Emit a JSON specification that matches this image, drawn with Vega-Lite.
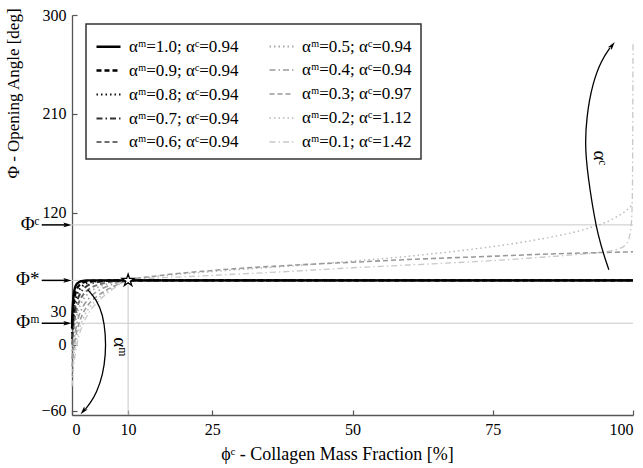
{
  "$schema": "https://vega.github.io/schema/vega-lite/v6.json",
  "width": 561,
  "height": 400,
  "autosize": {"type": "none"},
  "padding": {"left": 72, "top": 15, "right": 10, "bottom": 53},
  "background": "white",
  "datasets": {
    "curves": [
      {"s": "αᵐ=0.1; αᶜ=1.42", "x": 0, "y": -38}, {"s": "αᵐ=0.1; αᶜ=1.42", "x": 0.3, "y": -20}, {"s": "αᵐ=0.1; αᶜ=1.42", "x": 0.6, "y": -8}, {"s": "αᵐ=0.1; αᶜ=1.42", "x": 1, "y": 3}, {"s": "αᵐ=0.1; αᶜ=1.42", "x": 2, "y": 19}, {"s": "αᵐ=0.1; αᶜ=1.42", "x": 3, "y": 29}, {"s": "αᵐ=0.1; αᶜ=1.42", "x": 5, "y": 41}, {"s": "αᵐ=0.1; αᶜ=1.42", "x": 7, "y": 49.5}, {"s": "αᵐ=0.1; αᶜ=1.42", "x": 10, "y": 58.5}, {"s": "αᵐ=0.1; αᶜ=1.42", "x": 25, "y": 63}, {"s": "αᵐ=0.1; αᶜ=1.42", "x": 40, "y": 67}, {"s": "αᵐ=0.1; αᶜ=1.42", "x": 50, "y": 70}, {"s": "αᵐ=0.1; αᶜ=1.42", "x": 60, "y": 72.5}, {"s": "αᵐ=0.1; αᶜ=1.42", "x": 75, "y": 76.5}, {"s": "αᵐ=0.1; αᶜ=1.42", "x": 85, "y": 80}, {"s": "αᵐ=0.1; αᶜ=1.42", "x": 90, "y": 82}, {"s": "αᵐ=0.1; αᶜ=1.42", "x": 95, "y": 84.5}, {"s": "αᵐ=0.1; αᶜ=1.42", "x": 97, "y": 86.5}, {"s": "αᵐ=0.1; αᶜ=1.42", "x": 98.5, "y": 90}, {"s": "αᵐ=0.1; αᶜ=1.42", "x": 99.3, "y": 97}, {"s": "αᵐ=0.1; αᶜ=1.42", "x": 99.7, "y": 110}, {"s": "αᵐ=0.1; αᶜ=1.42", "x": 99.9, "y": 140}, {"s": "αᵐ=0.1; αᶜ=1.42", "x": 100, "y": 276},
      {"s": "αᵐ=0.2; αᶜ=1.12", "x": 0, "y": -28}, {"s": "αᵐ=0.2; αᶜ=1.12", "x": 0.3, "y": -12}, {"s": "αᵐ=0.2; αᶜ=1.12", "x": 0.6, "y": -1}, {"s": "αᵐ=0.2; αᶜ=1.12", "x": 1, "y": 9}, {"s": "αᵐ=0.2; αᶜ=1.12", "x": 2, "y": 24}, {"s": "αᵐ=0.2; αᶜ=1.12", "x": 3, "y": 33}, {"s": "αᵐ=0.2; αᶜ=1.12", "x": 5, "y": 43.5}, {"s": "αᵐ=0.2; αᶜ=1.12", "x": 7, "y": 51}, {"s": "αᵐ=0.2; αᶜ=1.12", "x": 10, "y": 58.5}, {"s": "αᵐ=0.2; αᶜ=1.12", "x": 15, "y": 62}, {"s": "αᵐ=0.2; αᶜ=1.12", "x": 25, "y": 66.5}, {"s": "αᵐ=0.2; αᶜ=1.12", "x": 40, "y": 72}, {"s": "αᵐ=0.2; αᶜ=1.12", "x": 50, "y": 76}, {"s": "αᵐ=0.2; αᶜ=1.12", "x": 60, "y": 80.5}, {"s": "αᵐ=0.2; αᶜ=1.12", "x": 70, "y": 86}, {"s": "αᵐ=0.2; αᶜ=1.12", "x": 80, "y": 93}, {"s": "αᵐ=0.2; αᶜ=1.12", "x": 85, "y": 97.5}, {"s": "αᵐ=0.2; αᶜ=1.12", "x": 90, "y": 103}, {"s": "αᵐ=0.2; αᶜ=1.12", "x": 93, "y": 107.5}, {"s": "αᵐ=0.2; αᶜ=1.12", "x": 95, "y": 111}, {"s": "αᵐ=0.2; αᶜ=1.12", "x": 97, "y": 116}, {"s": "αᵐ=0.2; αᶜ=1.12", "x": 99, "y": 123}, {"s": "αᵐ=0.2; αᶜ=1.12", "x": 100, "y": 128},
      {"s": "αᵐ=0.3; αᶜ=0.97", "x": 0, "y": -20}, {"s": "αᵐ=0.3; αᶜ=0.97", "x": 0.3, "y": -5}, {"s": "αᵐ=0.3; αᶜ=0.97", "x": 0.6, "y": 6}, {"s": "αᵐ=0.3; αᶜ=0.97", "x": 1, "y": 15}, {"s": "αᵐ=0.3; αᶜ=0.97", "x": 2, "y": 29}, {"s": "αᵐ=0.3; αᶜ=0.97", "x": 3, "y": 37}, {"s": "αᵐ=0.3; αᶜ=0.97", "x": 5, "y": 46}, {"s": "αᵐ=0.3; αᶜ=0.97", "x": 7, "y": 52}, {"s": "αᵐ=0.3; αᶜ=0.97", "x": 10, "y": 58.5}, {"s": "αᵐ=0.3; αᶜ=0.97", "x": 15, "y": 62.5}, {"s": "αᵐ=0.3; αᶜ=0.97", "x": 25, "y": 67.5}, {"s": "αᵐ=0.3; αᶜ=0.97", "x": 40, "y": 72.5}, {"s": "αᵐ=0.3; αᶜ=0.97", "x": 50, "y": 75}, {"s": "αᵐ=0.3; αᶜ=0.97", "x": 60, "y": 77.5}, {"s": "αᵐ=0.3; αᶜ=0.97", "x": 75, "y": 80.5}, {"s": "αᵐ=0.3; αᶜ=0.97", "x": 85, "y": 82.5}, {"s": "αᵐ=0.3; αᶜ=0.97", "x": 100, "y": 84.5},
      {"s": "αᵐ=0.4; αᶜ=0.94", "x": 0, "y": -13}, {"s": "αᵐ=0.4; αᶜ=0.94", "x": 0.3, "y": 2}, {"s": "αᵐ=0.4; αᶜ=0.94", "x": 0.6, "y": 12}, {"s": "αᵐ=0.4; αᶜ=0.94", "x": 1, "y": 22}, {"s": "αᵐ=0.4; αᶜ=0.94", "x": 2, "y": 35}, {"s": "αᵐ=0.4; αᶜ=0.94", "x": 3, "y": 42}, {"s": "αᵐ=0.4; αᶜ=0.94", "x": 5, "y": 50}, {"s": "αᵐ=0.4; αᶜ=0.94", "x": 7, "y": 54.5}, {"s": "αᵐ=0.4; αᶜ=0.94", "x": 10, "y": 58.5}, {"s": "αᵐ=0.4; αᶜ=0.94", "x": 100, "y": 58.5},
      {"s": "αᵐ=0.5; αᶜ=0.94", "x": 0, "y": -6}, {"s": "αᵐ=0.5; αᶜ=0.94", "x": 0.25, "y": 7}, {"s": "αᵐ=0.5; αᶜ=0.94", "x": 0.5, "y": 17}, {"s": "αᵐ=0.5; αᶜ=0.94", "x": 1, "y": 29}, {"s": "αᵐ=0.5; αᶜ=0.94", "x": 2, "y": 41}, {"s": "αᵐ=0.5; αᶜ=0.94", "x": 3, "y": 47}, {"s": "αᵐ=0.5; αᶜ=0.94", "x": 5, "y": 53}, {"s": "αᵐ=0.5; αᶜ=0.94", "x": 7, "y": 56.2}, {"s": "αᵐ=0.5; αᶜ=0.94", "x": 10, "y": 58.5}, {"s": "αᵐ=0.5; αᶜ=0.94", "x": 100, "y": 58.5},
      {"s": "αᵐ=0.6; αᶜ=0.94", "x": 0, "y": 0}, {"s": "αᵐ=0.6; αᶜ=0.94", "x": 0.25, "y": 14}, {"s": "αᵐ=0.6; αᶜ=0.94", "x": 0.5, "y": 24}, {"s": "αᵐ=0.6; αᶜ=0.94", "x": 1, "y": 35}, {"s": "αᵐ=0.6; αᶜ=0.94", "x": 2, "y": 45.5}, {"s": "αᵐ=0.6; αᶜ=0.94", "x": 3, "y": 50.5}, {"s": "αᵐ=0.6; αᶜ=0.94", "x": 5, "y": 55}, {"s": "αᵐ=0.6; αᶜ=0.94", "x": 7, "y": 57.2}, {"s": "αᵐ=0.6; αᶜ=0.94", "x": 10, "y": 58.5}, {"s": "αᵐ=0.6; αᶜ=0.94", "x": 100, "y": 58.5},
      {"s": "αᵐ=0.7; αᶜ=0.94", "x": 0, "y": 5}, {"s": "αᵐ=0.7; αᶜ=0.94", "x": 0.2, "y": 19}, {"s": "αᵐ=0.7; αᶜ=0.94", "x": 0.5, "y": 31}, {"s": "αᵐ=0.7; αᶜ=0.94", "x": 1, "y": 41}, {"s": "αᵐ=0.7; αᶜ=0.94", "x": 1.5, "y": 47}, {"s": "αᵐ=0.7; αᶜ=0.94", "x": 2, "y": 50.5}, {"s": "αᵐ=0.7; αᶜ=0.94", "x": 3, "y": 54.5}, {"s": "αᵐ=0.7; αᶜ=0.94", "x": 5, "y": 57.3}, {"s": "αᵐ=0.7; αᶜ=0.94", "x": 7, "y": 58.2}, {"s": "αᵐ=0.7; αᶜ=0.94", "x": 10, "y": 58.5}, {"s": "αᵐ=0.7; αᶜ=0.94", "x": 100, "y": 58.5},
      {"s": "αᵐ=0.8; αᶜ=0.94", "x": 0, "y": 10}, {"s": "αᵐ=0.8; αᶜ=0.94", "x": 0.2, "y": 25}, {"s": "αᵐ=0.8; αᶜ=0.94", "x": 0.4, "y": 34}, {"s": "αᵐ=0.8; αᶜ=0.94", "x": 0.7, "y": 42}, {"s": "αᵐ=0.8; αᶜ=0.94", "x": 1, "y": 47}, {"s": "αᵐ=0.8; αᶜ=0.94", "x": 1.5, "y": 51.5}, {"s": "αᵐ=0.8; αᶜ=0.94", "x": 2, "y": 54}, {"s": "αᵐ=0.8; αᶜ=0.94", "x": 3, "y": 56.5}, {"s": "αᵐ=0.8; αᶜ=0.94", "x": 5, "y": 58}, {"s": "αᵐ=0.8; αᶜ=0.94", "x": 10, "y": 58.5}, {"s": "αᵐ=0.8; αᶜ=0.94", "x": 100, "y": 58.5},
      {"s": "αᵐ=0.9; αᶜ=0.94", "x": 0, "y": 15}, {"s": "αᵐ=0.9; αᶜ=0.94", "x": 0.15, "y": 28}, {"s": "αᵐ=0.9; αᶜ=0.94", "x": 0.3, "y": 37}, {"s": "αᵐ=0.9; αᶜ=0.94", "x": 0.5, "y": 44}, {"s": "αᵐ=0.9; αᶜ=0.94", "x": 0.75, "y": 49}, {"s": "αᵐ=0.9; αᶜ=0.94", "x": 1, "y": 52}, {"s": "αᵐ=0.9; αᶜ=0.94", "x": 1.5, "y": 55}, {"s": "αᵐ=0.9; αᶜ=0.94", "x": 2, "y": 56.5}, {"s": "αᵐ=0.9; αᶜ=0.94", "x": 3, "y": 57.7}, {"s": "αᵐ=0.9; αᶜ=0.94", "x": 5, "y": 58.3}, {"s": "αᵐ=0.9; αᶜ=0.94", "x": 10, "y": 58.5}, {"s": "αᵐ=0.9; αᶜ=0.94", "x": 100, "y": 58.5},
      {"s": "αᵐ=1.0; αᶜ=0.94", "x": 0, "y": 19.5}, {"s": "αᵐ=1.0; αᶜ=0.94", "x": 0.1, "y": 32}, {"s": "αᵐ=1.0; αᶜ=0.94", "x": 0.2, "y": 40}, {"s": "αᵐ=1.0; αᶜ=0.94", "x": 0.35, "y": 47}, {"s": "αᵐ=1.0; αᶜ=0.94", "x": 0.5, "y": 51}, {"s": "αᵐ=1.0; αᶜ=0.94", "x": 0.75, "y": 54.5}, {"s": "αᵐ=1.0; αᶜ=0.94", "x": 1, "y": 56}, {"s": "αᵐ=1.0; αᶜ=0.94", "x": 1.5, "y": 57.5}, {"s": "αᵐ=1.0; αᶜ=0.94", "x": 2, "y": 58}, {"s": "αᵐ=1.0; αᶜ=0.94", "x": 3, "y": 58.5}, {"s": "αᵐ=1.0; αᶜ=0.94", "x": 100, "y": 58.5}
    ],
    "hrules": [
      {"x": 0, "x2": 100, "y": 109},
      {"x": 0, "x2": 100, "y": 58.5},
      {"x": 0, "x2": 100, "y": 19.5}
    ],
    "vrule": [{"x": 10, "y": -64, "y2": 58.5}],
    "arcs": [
      {"arc": "m", "o": 1, "x": 2.8, "y": 50}, {"arc": "m", "o": 2, "x": 4.4, "y": 40.9}, {"arc": "m", "o": 3, "x": 5.5, "y": 27.3}, {"arc": "m", "o": 4, "x": 6.0, "y": 9.1}, {"arc": "m", "o": 5, "x": 6.0, "y": -9.1}, {"arc": "m", "o": 6, "x": 5.5, "y": -27.3}, {"arc": "m", "o": 7, "x": 4.4, "y": -43.6}, {"arc": "m", "o": 8, "x": 3.2, "y": -53.6}, {"arc": "m", "o": 9, "x": 2.4, "y": -58.5},
      {"arc": "c", "o": 1, "x": 95.7, "y": 68.2}, {"arc": "c", "o": 2, "x": 93.7, "y": 98.2}, {"arc": "c", "o": 3, "x": 92.3, "y": 140.9}, {"arc": "c", "o": 4, "x": 91.4, "y": 177.3}, {"arc": "c", "o": 5, "x": 91.7, "y": 207.5}, {"arc": "c", "o": 6, "x": 92.8, "y": 238.2}, {"arc": "c", "o": 7, "x": 94.4, "y": 259.1}, {"arc": "c", "o": 8, "x": 95.9, "y": 270}
    ],
    "heads": [
      {"x": 2.0, "y": -60.5, "a": 220},
      {"x": 96.3, "y": 272.5, "a": 37},
      {"x": -0.8, "y": 109, "a": 90},
      {"x": -0.8, "y": 58.5, "a": 90},
      {"x": -0.8, "y": 19.5, "a": 90}
    ],
    "leftarrows": [
      {"x": -5.4, "x2": -0.8, "y": 109},
      {"x": -5.4, "x2": -0.8, "y": 58.5},
      {"x": -5.4, "x2": -0.8, "y": 19.5}
    ],
    "leftlabels": [
      {"x": -5.8, "y": 110, "t": "Φᶜ"},
      {"x": -5.8, "y": 59.5, "t": "Φ*"},
      {"x": -5.8, "y": 20.5, "t": "Φᵐ"}
    ],
    "alabels": [
      {"x": 8.6, "y": -2, "t": "αᵐ"},
      {"x": 94.2, "y": 170, "t": "αᶜ"}
    ],
    "star": [{"x": 10, "y": 58.5}]
  },
  "encoding": {
    "x": {
      "field": "x", "type": "quantitative",
      "scale": {"domain": [0, 100], "nice": false, "zero": false},
      "axis": {"values": [0, 10, 25, 50, 75, 100], "title": "ϕᶜ - Collagen Mass Fraction [%]", "tickSize": -5, "labelPadding": 11, "titlePadding": 8, "labelFlush": true, "titleX": 265}
    },
    "y": {
      "field": "y", "type": "quantitative",
      "scale": {"domain": [-64, 300], "nice": false, "zero": false},
      "axis": {"values": [-60, 0, 30, 120, 210, 300], "title": "Φ - Opening Angle [deg]", "tickSize": -5, "labelPadding": 11, "titleAlign": "center", "titleY": 78, "titlePadding": 18, "titleFontSize": 17, "labelFlush": false}
    }
  },
  "layer": [
    {
      "data": {"name": "hrules"},
      "mark": {"type": "rule", "color": "#c8c8c8", "strokeWidth": 1},
      "encoding": {"x2": {"field": "x2"}}
    },
    {
      "data": {"name": "vrule"},
      "mark": {"type": "rule", "color": "#c8c8c8", "strokeWidth": 1},
      "encoding": {"y2": {"field": "y2"}}
    },
    {
      "data": {"name": "curves"},
      "mark": {"type": "line", "interpolate": "monotone"},
      "encoding": {
        "color": {
          "field": "s", "type": "nominal",
          "scale": {
            "domain": ["αᵐ=1.0; αᶜ=0.94", "αᵐ=0.9; αᶜ=0.94", "αᵐ=0.8; αᶜ=0.94", "αᵐ=0.7; αᶜ=0.94", "αᵐ=0.6; αᶜ=0.94", "αᵐ=0.5; αᶜ=0.94", "αᵐ=0.4; αᶜ=0.94", "αᵐ=0.3; αᶜ=0.97", "αᵐ=0.2; αᶜ=1.12", "αᵐ=0.1; αᶜ=1.42"],
            "range": ["#000000", "#000000", "#111111", "#333333", "#6e6e6e", "#a8a8a8", "#9a9a9a", "#999999", "#b8b8b8", "#c8c8c8"]
          },
          "legend": {
            "orient": "none", "legendX": 14, "legendY": 9, "columns": 2, "title": null,
            "symbolType": "stroke", "symbolSize": 576, "labelFontSize": 17, "labelFont": "Liberation Serif, Times New Roman, Times, serif",
            "labelColor": "#000", "columnPadding": 26, "rowPadding": 2, "padding": 9,
            "strokeColor": "#333", "fillColor": "white", "labelLimit": 300, "labelOffset": 7
          }
        },
        "strokeDash": {
          "field": "s", "type": "nominal",
          "scale": {
            "domain": ["αᵐ=1.0; αᶜ=0.94", "αᵐ=0.9; αᶜ=0.94", "αᵐ=0.8; αᶜ=0.94", "αᵐ=0.7; αᶜ=0.94", "αᵐ=0.6; αᶜ=0.94", "αᵐ=0.5; αᶜ=0.94", "αᵐ=0.4; αᶜ=0.94", "αᵐ=0.3; αᶜ=0.97", "αᵐ=0.2; αᶜ=1.12", "αᵐ=0.1; αᶜ=1.42"],
            "range": [[1, 0], [5, 3], [1.5, 3], [6, 3, 1.5, 3], [5, 3], [1.5, 3], [6, 3, 1.5, 3], [5, 3], [1.5, 3], [6, 3, 1.5, 3]]
          },
          "legend": {
            "orient": "none", "legendX": 14, "legendY": 9, "columns": 2, "title": null,
            "symbolType": "stroke", "symbolSize": 576, "labelFontSize": 17, "labelFont": "Liberation Serif, Times New Roman, Times, serif",
            "labelColor": "#000", "columnPadding": 26, "rowPadding": 2, "padding": 9,
            "strokeColor": "#333", "fillColor": "white", "labelLimit": 300, "labelOffset": 7
          }
        },
        "strokeWidth": {
          "field": "s", "type": "nominal",
          "scale": {
            "domain": ["αᵐ=1.0; αᶜ=0.94", "αᵐ=0.9; αᶜ=0.94", "αᵐ=0.8; αᶜ=0.94", "αᵐ=0.7; αᶜ=0.94", "αᵐ=0.6; αᶜ=0.94", "αᵐ=0.5; αᶜ=0.94", "αᵐ=0.4; αᶜ=0.94", "αᵐ=0.3; αᶜ=0.97", "αᵐ=0.2; αᶜ=1.12", "αᵐ=0.1; αᶜ=1.42"],
            "range": [2.4, 1.3, 1.3, 1.3, 1.2, 1.1, 1.1, 1.1, 1.1, 1.1]
          },
          "legend": {
            "orient": "none", "legendX": 14, "legendY": 9, "columns": 2, "title": null,
            "symbolType": "stroke", "symbolSize": 576, "labelFontSize": 17, "labelFont": "Liberation Serif, Times New Roman, Times, serif",
            "labelColor": "#000", "columnPadding": 26, "rowPadding": 2, "padding": 9,
            "strokeColor": "#333", "fillColor": "white", "labelLimit": 300, "labelOffset": 7
          }
        }
      }
    },
    {
      "data": {"name": "star"},
      "mark": {"type": "point", "shape": "M0,-1L0.2245,-0.309L0.951,-0.309L0.363,0.118L0.588,0.809L0,0.382L-0.588,0.809L-0.363,0.118L-0.951,-0.309L-0.2245,-0.309Z", "size": 160, "filled": true, "fill": "white", "stroke": "black", "strokeWidth": 1.3, "opacity": 1}
    },
    {
      "data": {"name": "arcs"},
      "mark": {"type": "line", "color": "black", "strokeWidth": 1.3, "interpolate": "basis"},
      "encoding": {"detail": {"field": "arc"}, "order": {"field": "o"}}
    },
    {
      "data": {"name": "leftarrows"},
      "mark": {"type": "rule", "color": "black", "strokeWidth": 1.5},
      "encoding": {"x2": {"field": "x2"}}
    },
    {
      "data": {"name": "heads"},
      "mark": {"type": "point", "shape": "M0,-1L0.55,1L0,0.6L-0.55,1Z", "filled": true, "color": "black", "size": 70, "opacity": 1},
      "encoding": {"angle": {"field": "a", "type": "quantitative", "scale": null}}
    },
    {
      "data": {"name": "leftlabels"},
      "mark": {"type": "text", "align": "right", "baseline": "middle", "font": "Liberation Serif, Times New Roman, Times, serif", "fontSize": 19, "color": "black"},
      "encoding": {"text": {"field": "t"}}
    },
    {
      "data": {"name": "alabels"},
      "mark": {"type": "text", "align": "center", "baseline": "middle", "font": "Liberation Serif, Times New Roman, Times, serif", "fontSize": 19, "color": "black", "angle": 90},
      "encoding": {"text": {"field": "t"}}
    }
  ],
  "config": {
    "view": {"stroke": null},
    "font": "Liberation Serif, Times New Roman, Times, serif",
    "axis": {
      "grid": false,
      "labelFont": "Liberation Serif, Times New Roman, Times, serif", "titleFont": "Liberation Serif, Times New Roman, Times, serif",
      "labelFontSize": 16, "titleFontSize": 18, "titleFontWeight": "normal",
      "labelColor": "#000", "titleColor": "#000",
      "domainColor": "#555", "tickColor": "#555", "domainWidth": 1.3, "tickWidth": 1.2
    },
    "legend": {"strokeWidth": 1.5}
  }
}
